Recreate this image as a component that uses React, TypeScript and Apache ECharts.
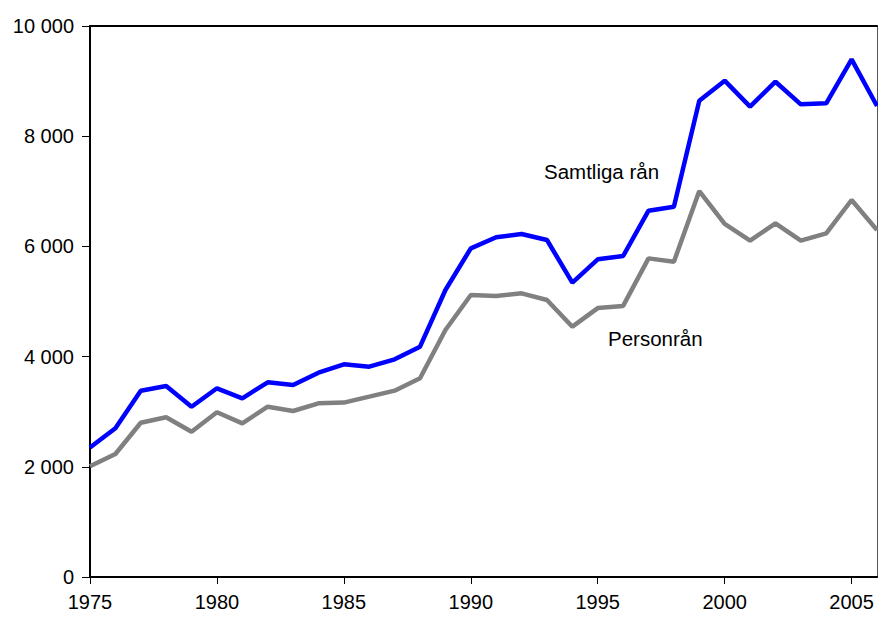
import React, { useEffect, useRef } from "react";
import * as echarts from "echarts";

const years = [1975, 1976, 1977, 1978, 1979, 1980, 1981, 1982, 1983, 1984, 1985, 1986, 1987, 1988, 1989, 1990, 1991, 1992, 1993, 1994, 1995, 1996, 1997, 1998, 1999, 2000, 2001, 2002, 2003, 2004, 2005, 2006];
const samtligaRan = [2350, 2700, 3380, 3466, 3090, 3425, 3243, 3533, 3485, 3708, 3860, 3817, 3950, 4180, 5209, 5965, 6165, 6225, 6116, 5342, 5765, 5826, 6648, 6721, 8645, 9008, 8536, 8989, 8578, 8597, 9395, 8548];
const personRan = [2010, 2232, 2800, 2898, 2637, 2989, 2789, 3091, 3013, 3152, 3165, 3273, 3382, 3606, 4483, 5118, 5100, 5148, 5027, 4543, 4880, 4920, 5783, 5722, 7005, 6407, 6104, 6419, 6104, 6238, 6842, 6298];
const xTicks = [1975, 1980, 1985, 1990, 1995, 2000, 2005];
const seriesNames = ["Samtliga rån", "Personrån"];

const FONT = "'Liberation Sans', Arial, sans-serif";

function fmt(v: number) {
  return String(v).replace(/\B(?=(\d{3})+(?!\d))/g, " ");
}

export default function App() {
  const ref = useRef<HTMLDivElement>(null);
  useEffect(() => {
    if (!ref.current) return;
    const chart = echarts.init(ref.current, undefined, { renderer: "svg" });
    chart.setOption({
      animation: false,
      backgroundColor: "#ffffff",
      textStyle: { fontFamily: FONT },
      grid: { left: 90, top: 26, right: 1, bottom: 40, containLabel: false },
      xAxis: [
        {
          type: "value",
          min: 1975,
          max: 2006,
          interval: 5,
          axisLine: { show: true, onZero: false, lineStyle: { color: "#000", width: 2 } },
          axisTick: { show: true, length: 7, customValues: xTicks, lineStyle: { color: "#000", width: 1 } },
          axisLabel: {
            customValues: xTicks,
            color: "#000",
            fontSize: 20,
            fontFamily: FONT,
            margin: 15,
            formatter: (v: number) => String(v),
          },
          splitLine: { show: false },
        },
        {
          type: "value",
          position: "top",
          min: 1975,
          max: 2006,
          axisLine: { show: true, onZero: false, lineStyle: { color: "#000", width: 2 } },
          axisTick: { show: false },
          axisLabel: { show: false },
          splitLine: { show: false },
        },
      ],
      yAxis: [
        {
          type: "value",
          min: 0,
          max: 10000,
          interval: 2000,
          axisLine: { show: true, onZero: false, lineStyle: { color: "#000", width: 2 } },
          axisTick: { show: true, inside: false, length: 8, lineStyle: { color: "#000", width: 1 } },
          axisLabel: { color: "#000", fontSize: 20, fontFamily: FONT, margin: 16, formatter: (v: number) => fmt(v) },
          splitLine: { show: false },
        },
        {
          type: "value",
          position: "right",
          min: 0,
          max: 10000,
          axisLine: { show: true, onZero: false, lineStyle: { color: "#555", width: 1 } },
          axisTick: { show: false },
          axisLabel: { show: false },
          splitLine: { show: false },
        },
      ],
      series: [
        {
          name: seriesNames[0],
          type: "line",
          data: years.map((y, i) => [y, samtligaRan[i]]),
          symbol: "none",
          lineStyle: { color: "#0000ff", width: 4.5 },
          z: 3,
        },
        {
          name: seriesNames[1],
          type: "line",
          data: years.map((y, i) => [y, personRan[i]]),
          symbol: "none",
          lineStyle: { color: "#808080", width: 4.5 },
          z: 2,
        },
      ],
      graphic: [
        {
          type: "text",
          left: 544,
          top: 161,
          style: { text: seriesNames[0], fill: "#000", font: `20.5px ${FONT}` },
        },
        {
          type: "text",
          left: 608,
          top: 328,
          style: { text: seriesNames[1], fill: "#000", font: `20.5px ${FONT}` },
        },
      ],
    });
    return () => chart.dispose();
  }, []);
  return (
    <div
      ref={ref}
      style={{ position: "fixed", left: 0, top: 0, width: 878, height: 617, background: "#fff" }}
    />
  );
}
